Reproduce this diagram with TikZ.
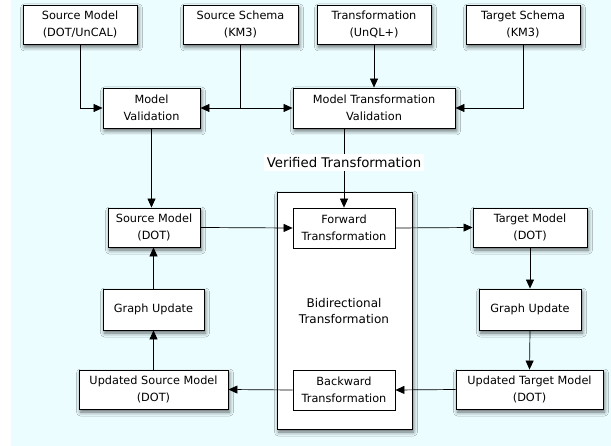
\documentclass[tikz,border=0pt]{standalone}
\usepackage{fontspec}
\setmainfont{DejaVu Sans}
\usetikzlibrary{arrows.meta,shadows.blur}
\definecolor{bgcyan}{RGB}{235,253,255}
\begin{document}
\begin{tikzpicture}[x=1pt,y=-1pt,
    box/.style={draw,line width=0.9pt,fill=white,align=center,inner sep=0pt,
      font=\fontsize{11.3}{17.5}\selectfont,
      blur shadow={shadow xshift=1.5pt,shadow yshift=-3pt,shadow blur radius=4pt,shadow opacity=60}},
    inbox/.style={draw,line width=0.8pt,fill=white,align=center,inner sep=0pt,
      font=\fontsize{11.3}{17.5}\selectfont},
    arr/.style={-{Triangle[length=9pt,width=8pt]},line width=0.7pt}]
  \useasboundingbox (0,0) rectangle (611,446);
  \fill[bgcyan] (11,0) rectangle (611,446);
  \node[box,minimum width=114,minimum height=39] (srcmodel) at (80,24.5) {Source Model\\(DOT/UnCAL)};
  \node[box,minimum width=115,minimum height=39] (srcschema) at (240.5,24.5) {Source Schema\\(KM3)};
  \node[box,minimum width=114,minimum height=39] (trans) at (374,24.5) {Transformation\\(UnQL+)};
  \node[box,minimum width=114,minimum height=39] (tgtschema) at (523,24.5) {Target Schema\\(KM3)};
  \node[box,minimum width=97,minimum height=40] (mval) at (151.5,108) {Model\\Validation};
  \node[box,minimum width=162,minimum height=40] (mtval) at (374,108) {Model Transformation\\Validation};
  \node[box,minimum width=92,minimum height=39] (srcdot) at (154,227.5) {Source Model\\(DOT)};
  \node[box,minimum width=135,minimum height=237] (bx) at (344.5,310.5) {};
  \node[align=center,font=\fontsize{12}{16}\selectfont] (bxlabel) at (344,311) {Bidirectional\\Transformation};
  \node[inbox,minimum width=102,minimum height=40] (fwd) at (344,228) {Forward\\Transformation};
  \node[inbox,minimum width=102,minimum height=40] (bwd) at (344,390) {Backward\\Transformation};
  \node[box,minimum width=114,minimum height=39] (tgtdot) at (530,227.5) {Target Model\\(DOT)};
  \node[box,minimum width=101,minimum height=41] (gul) at (153.5,309.5) {Graph Update};
  \node[box,minimum width=102,minimum height=41] (gur) at (530,309.5) {Graph Update};
  \node[box,minimum width=149,minimum height=39] (updsrc) at (153.5,389.5) {Updated Source Model\\(DOT)};
  \node[box,minimum width=147,minimum height=39] (updtgt) at (529.5,389.5) {Updated Target Model\\(DOT)};
  \draw[arr] (srcmodel.south) |- (mval.west);
  \draw[arr] (srcschema.south) |- (mval.east);
  \draw[arr] (srcschema.south) |- (mtval.west);
  \draw[arr] (trans.south) -- (mtval.north);
  \draw[arr] (tgtschema.south) |- (mtval.east);
  \draw[arr] (mval.south) -- (mval.south |- srcdot.north);
  \draw[arr] (fwd.north |- mtval.south) -- (fwd.north)
    node[pos=0.43,fill=white,inner sep=3pt,font=\fontsize{13.3}{15}\selectfont] (verified) {Verified Transformation};
  \draw[arr] (srcdot.east) -- (fwd.west);
  \draw[arr] (fwd.east) -- (tgtdot.west);
  \draw[arr] (tgtdot.south) -- (gur.north);
  \draw[arr] (gur.south) -- (updtgt.north);
  \draw[arr] (updtgt.west) -- (bwd.east);
  \draw[arr] (bwd.west) -- (updsrc.east);
  \draw[arr] (updsrc.north) -- (gul.south);
  \draw[arr] (gul.north) -- (gul.north |- srcdot.south);
\end{tikzpicture}
\end{document}
